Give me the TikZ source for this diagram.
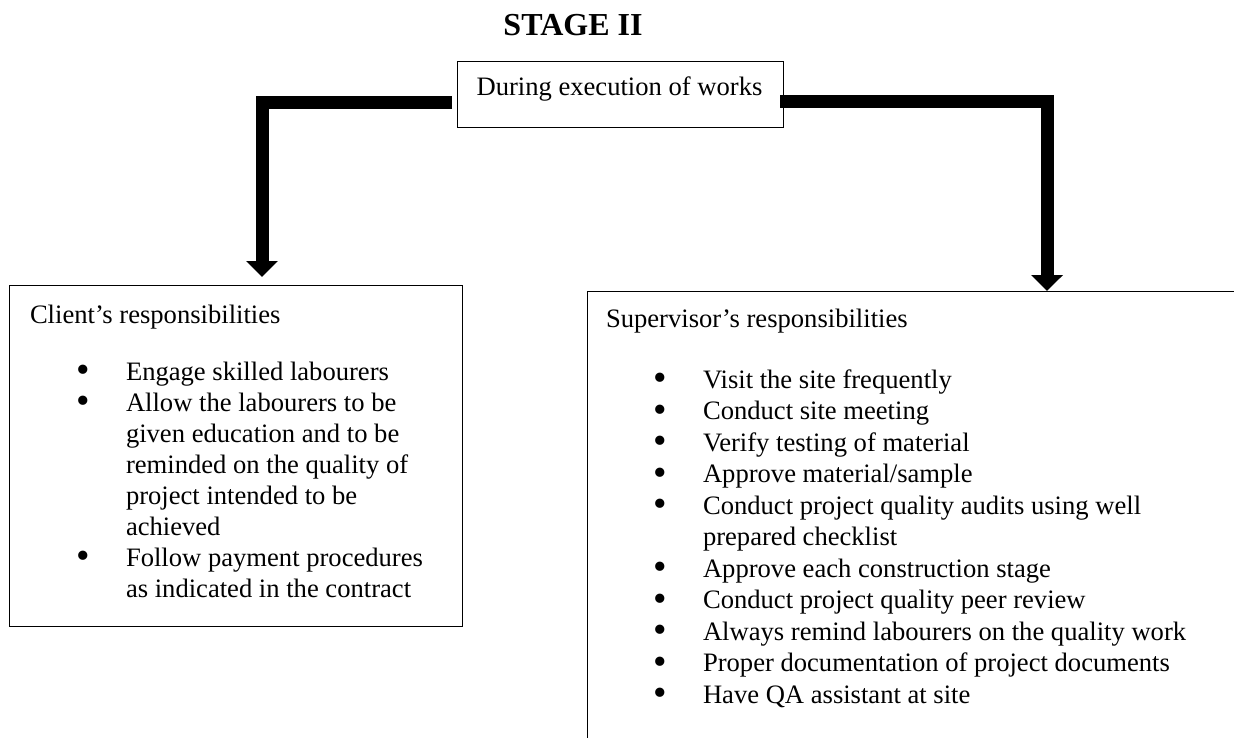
\documentclass[tikz,border=0pt]{standalone}
\usepackage{fontspec}
\setmainfont{Liberation Serif}
\usetikzlibrary{arrows.meta,calc}
\tikzset{
  box/.style={draw, line width=0.9pt, rectangle, inner sep=0pt, outer sep=0pt, anchor=north west},
  txt/.style={inner sep=0pt, outer sep=0pt, font=\fontsize{26.6}{31}\selectfont},
  txtr/.style={inner sep=0pt, outer sep=0pt, font=\fontsize{26.6}{31.5}\selectfont},
  titletxt/.style={inner sep=0pt, outer sep=0pt, font=\fontsize{32}{38}\selectfont\bfseries},
  bigarrow/.style={line width=13pt, line join=miter, -{Triangle[width=31pt 0, length=16pt 0]}}
}
\newcommand\mybul{\makebox[0pt][c]{\raisebox{-2.8pt}{\scalebox{1.45}{\textbullet}}}}
\begin{document}
\begin{tikzpicture}[x=1pt,y=-1pt]
\useasboundingbox (0,0) rectangle (1234,737);
% title
\node[titletxt, anchor=base] (title) at (573,35) {STAGE II};
% top box
\node[box, minimum width=326pt, minimum height=66pt] (works) at (457,61) {};
\node[txt, anchor=base] (workstxt) at (619.5,95) {During execution of works};
% client box
\node[box, minimum width=453pt, minimum height=341pt] (client) at (9,285) {};
\node[txt, anchor=base west] (clienthead) at (30,323) {Client’s responsibilities};
\node[txt, anchor=base west] (clientlist) at (83,380) {\begin{tabular}[t]{@{}p{43pt}@{}l@{}}
\mybul & Engage skilled labourers\\
\mybul & Allow the labourers to be\\
 & given education and to be\\
 & reminded on the quality of\\
 & project intended to be\\
 & achieved\\
\mybul & Follow payment procedures\\
 & as indicated in the contract
\end{tabular}};
% supervisor box (cut off by the picture edge)
\begin{scope}
\clip (0,0) rectangle (1234,737);
\node[box, minimum width=713pt, minimum height=509pt] (super) at (587,291) {};
\end{scope}
\node[txt, anchor=base west] (superhead) at (606,327) {Supervisor’s responsibilities};
\node[txtr, anchor=base west] (superlist) at (660,388) {\begin{tabular}[t]{@{}p{43pt}@{}l@{}}
\mybul & Visit the site frequently\\
\mybul & Conduct site meeting\\
\mybul & Verify testing of material\\
\mybul & Approve material/sample\\
\mybul & Conduct project quality audits using well\\
 & prepared checklist\\
\mybul & Approve each construction stage\\
\mybul & Conduct project quality peer review\\
\mybul & Always remind labourers on the quality work\\
\mybul & Proper documentation of project documents\\
\mybul & Have QA assistant at site
\end{tabular}};
% arrows
\draw[bigarrow] ($(works.north west)+(-5,41)$) -| ($(client.north west)+(253,-8)$);
\draw[bigarrow] ($(works.north east)+(-3,40)$) -| ($(super.north west)+(460,0)$);
\end{tikzpicture}
\end{document}
